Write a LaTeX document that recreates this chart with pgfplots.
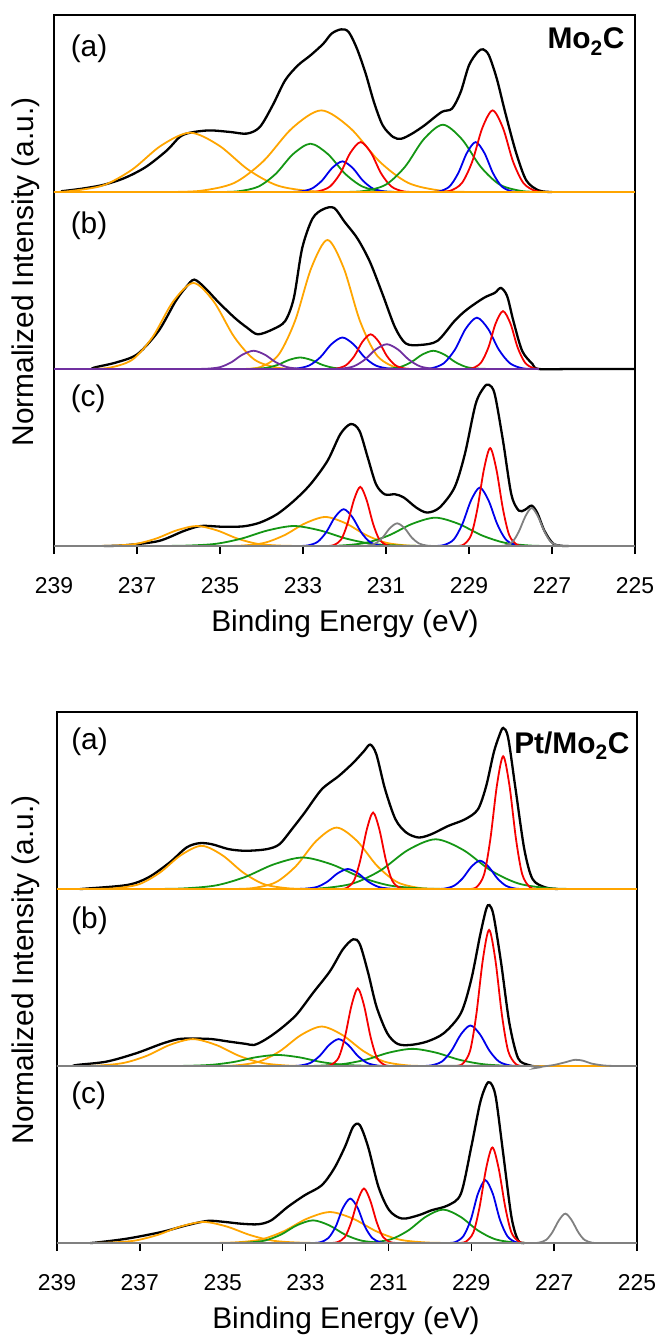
\documentclass[border=0pt]{standalone}
\usepackage{fontspec}
\setmainfont{Liberation Sans}
\usepackage{pgfplots}
\pgfplotsset{compat=1.18}
\definecolor{corange}{RGB}{255,165,0}
\definecolor{cgreen}{RGB}{20,150,20}
\definecolor{cblue}{RGB}{0,0,235}
\definecolor{cred}{RGB}{245,0,0}
\definecolor{cpurple}{RGB}{112,48,160}
\definecolor{cgray}{RGB}{128,128,128}
\newcommand\lab{\fontsize{30}{36}\selectfont}
\pgfplotsset{
  xps/.style={
    scale only axis, height=177bp,
    xmin=225, xmax=239, x dir=reverse, ymin=0, ymax=1,
    clip=false, anchor=center, hide axis,
  },
  frm/.style={
    scale only axis, height=531bp,
    xmin=225, xmax=239, x dir=reverse, ymin=0, ymax=1,
    anchor=center, ytick=\empty,
    axis line style={line width=1.6bp},
    xtick={225,227,...,239}, tick align=outside, xtick pos=left,
    major tick length=8bp, tick style={line width=1.4bp, black},
    xticklabel style={font=\fontsize{23}{27}\selectfont, yshift=-20bp},
    /pgf/number format/assume math mode=true,
  },
  cv/.style={smooth, line width=1.8bp},
  bk/.style={smooth, black, line width=2.3bp},
}
\begin{document}
\begin{tikzpicture}
\path[use as bounding box] (0,0) rectangle (660bp,-1342bp);
% ================= TOP FIGURE (Mo2C) =================
\begin{axis}[frm, width=581bp, at={(344.5bp,-280.5bp)}]
\end{axis}
% (a)
\begin{axis}[xps, width=581bp, at={(344.5bp,-103.5bp)}]
\addplot[bk] coordinates {(238.83,0.004)(238.32,0.019)(237.8,0.041)(237.3,0.079)(236.79,0.141)(236.28,0.235)(235.97,0.311)(235.72,0.335)(235.26,0.348)(234.75,0.339)(234.35,0.33)(234.04,0.367)(233.73,0.49)(233.43,0.631)(233.12,0.716)(232.82,0.772)(232.51,0.838)(232.31,0.895)(232.08,0.919)(231.9,0.904)(231.7,0.81)(231.49,0.669)(231.29,0.508)(231.08,0.377)(230.83,0.311)(230.63,0.301)(230.37,0.33)(230.07,0.377)(229.66,0.452)(229.41,0.471)(229.2,0.565)(229.0,0.716)(228.79,0.791)(228.66,0.806)(228.52,0.772)(228.33,0.64)(228.13,0.452)(227.87,0.226)(227.62,0.066)(227.32,0.009)(227.0,0)};
\addplot[cv, corange] coordinates {(239,0)(238.62,.005)(237.82,.037)(237.12,.126)(236.42,.262)(235.72,.335)(235.02,.262)(234.32,.126)(233.62,.037)(232.82,.005)(232.02,0)};
\addplot[cv, corange] coordinates {(236.26,0)(235.46,.007)(234.66,.051)(233.96,.173)(233.26,.361)(232.56,.461)(231.86,.361)(231.16,.173)(230.46,.051)(229.66,.007)(228.86,0)};
\addplot[cv, cgreen] coordinates {(235.04,0)(234.56,.004)(234.08,.030)(233.66,.102)(233.24,.214)(232.82,.273)(232.40,.214)(231.98,.102)(231.56,.030)(231.08,.004)(230.60,0)};
\addplot[cv, cblue] coordinates {(233.35,0)(233.07,.003)(232.79,.019)(232.54,.065)(232.30,.135)(232.05,.173)(231.80,.135)(231.56,.065)(231.31,.019)(231.03,.003)(230.75,0)};
\addplot[cv, cred] coordinates {(232.91,0)(232.63,.004)(232.35,.031)(232.10,.106)(231.86,.221)(231.61,.282)(231.36,.221)(231.12,.106)(230.87,.031)(230.59,.004)(230.31,0)};
\addplot[cv, cgreen] coordinates {(232.04,0)(231.52,.006)(231.00,.042)(230.54,.143)(230.09,.298)(229.63,.38)(229.17,.298)(228.72,.143)(228.26,.042)(227.74,.006)(227.22,0)};
\addplot[cv, cblue] coordinates {(229.95,0)(229.71,.004)(229.47,.031)(229.26,.106)(229.05,.221)(228.84,.282)(228.63,.221)(228.42,.106)(228.21,.031)(227.97,.004)(227.73,0)};
\addplot[cv, cred] coordinates {(229.73,0)(229.45,.007)(229.17,.051)(228.92,.173)(228.68,.361)(228.43,.461)(228.18,.361)(227.94,.173)(227.69,.051)(227.41,.007)(227.13,0)};
\addplot[corange, line width=1.8bp] coordinates {(239,0)(225,0)};
\node[anchor=west, font=\lab] at (axis cs:238.68,0.81) {(a)};
\node[anchor=east, font=\lab\bfseries] at (axis cs:225.17,0.85) {Mo\textsubscript{2}C};
\end{axis}
% (b)
\begin{axis}[xps, width=581bp, at={(344.5bp,-280.5bp)}]
\addplot[bk] coordinates {(238.1,0)(238.0,0.01)(237.5,0.037)(236.99,0.084)(236.48,0.215)(236.07,0.383)(235.82,0.462)(235.62,0.505)(235.36,0.458)(235.06,0.383)(234.65,0.29)(234.35,0.234)(234.09,0.196)(233.73,0.224)(233.43,0.271)(233.22,0.402)(233.02,0.682)(232.77,0.85)(232.51,0.903)(232.25,0.91)(232.0,0.832)(231.69,0.738)(231.39,0.607)(231.08,0.421)(230.78,0.234)(230.52,0.144)(230.17,0.136)(229.76,0.159)(229.35,0.271)(229.05,0.336)(228.64,0.402)(228.38,0.43)(228.23,0.458)(228.08,0.411)(227.93,0.271)(227.72,0.103)(227.47,0.028)(227.32,0)(226.5,0)(225,0)};
\addplot[cv, corange] coordinates {(238.23,0)(237.67,.007)(237.11,.053)(236.62,.182)(236.13,.381)(235.64,.486)(235.15,.381)(234.66,.182)(234.17,.053)(233.61,.007)(233.05,0)};
\addplot[cv, corange] coordinates {(234.48,0)(234.03,.011)(233.59,.080)(233.19,.273)(232.80,.571)(232.41,.729)(232.02,.571)(231.63,.273)(231.23,.080)(230.79,.011)(230.34,0)};
\addplot[cv, cgreen] coordinates {(234.48,0)(234.17,.001)(233.87,.007)(233.60,.024)(233.34,.051)(233.07,.065)(232.80,.051)(232.54,.024)(232.27,.007)(231.97,.001)(231.66,0)};
\addplot[cv, cgreen] coordinates {(231.27,0)(230.96,.002)(230.66,.011)(230.39,.039)(230.13,.081)(229.86,.103)(229.59,.081)(229.33,.039)(229.06,.011)(228.76,.002)(228.45,0)};
\addplot[cv, cblue] coordinates {(233.46,0)(233.15,.003)(232.85,.020)(232.58,.067)(232.32,.139)(232.05,.178)(231.78,.139)(231.52,.067)(231.25,.020)(230.95,.003)(230.64,0)};
\addplot[cv, cblue] coordinates {(230.22,0)(229.91,.004)(229.61,.032)(229.34,.109)(229.08,.227)(228.81,.29)(228.54,.227)(228.28,.109)(228.01,.032)(227.71,.004)(227.40,0)};
\addplot[cv, cred] coordinates {(232.41,0)(232.18,.003)(231.96,.022)(231.76,.074)(231.57,.153)(231.37,.196)(231.17,.153)(230.98,.074)(230.78,.022)(230.56,.003)(230.33,0)};
\addplot[cv, cred] coordinates {(229.11,0)(228.91,.005)(228.71,.036)(228.53,.123)(228.36,.256)(228.18,.327)(228.00,.256)(227.83,.123)(227.65,.036)(227.45,.005)(227.25,0)};
\addplot[cv, cpurple] coordinates {(235.60,0)(235.29,.002)(234.99,.011)(234.72,.039)(234.46,.081)(234.19,.103)(233.92,.081)(233.66,.039)(233.39,.011)(233.09,.002)(232.78,0)};
\addplot[cv, cpurple] coordinates {(232.39,0)(232.08,.002)(231.78,.015)(231.51,.053)(231.25,.110)(230.98,.14)(230.71,.110)(230.45,.053)(230.18,.015)(229.88,.002)(229.57,0)};
\addplot[black, line width=1.8bp] coordinates {(227.4,0)(225,0)};
\addplot[cpurple, line width=1.8bp] coordinates {(239,0)(227.32,0)};
\node[anchor=west, font=\lab] at (axis cs:238.68,0.81) {(b)};
\end{axis}
% (c)
\begin{axis}[xps, width=581bp, at={(344.5bp,-457.5bp)}]
\addplot[bk] coordinates {(237.8,0)(237.3,0.004)(236.48,0.028)(235.87,0.085)(235.46,0.113)(234.95,0.109)(234.44,0.111)(234.04,0.132)(233.63,0.179)(233.22,0.255)(232.82,0.349)(232.41,0.481)(232.1,0.632)(231.85,0.689)(231.64,0.651)(231.44,0.5)(231.24,0.349)(231.03,0.292)(230.78,0.292)(230.57,0.274)(230.27,0.217)(230.01,0.189)(229.71,0.217)(229.35,0.33)(229.1,0.519)(228.84,0.802)(228.64,0.896)(228.52,0.911)(228.38,0.858)(228.18,0.594)(227.98,0.292)(227.8,0.2)(227.65,0.205)(227.49,0.228)(227.35,0.185)(227.18,0.085)(226.95,0.01)(226.6,0)};
\addplot[cv, corange] coordinates {(238.15,0)(237.59,.002)(237.03,.012)(236.54,.042)(236.05,.088)(235.56,.113)(235.07,.088)(234.58,.042)(234.09,.012)(233.53,.002)(232.97,0)};
\addplot[cv, corange] coordinates {(235.05,0)(234.49,.002)(233.93,.018)(233.44,.062)(232.95,.128)(232.46,.164)(231.97,.128)(231.48,.062)(230.99,.018)(230.43,.002)(229.87,0)};
\addplot[cv, cgreen] coordinates {(236.55,0)(235.83,.002)(235.11,.012)(234.48,.042)(233.85,.088)(233.22,.113)(232.59,.088)(231.96,.042)(231.33,.012)(230.61,.002)(229.89,0)};
\addplot[cv, cgreen] coordinates {(232.77,0)(232.13,.002)(231.49,.018)(230.93,.060)(230.37,.125)(229.81,.16)(229.25,.125)(228.69,.060)(228.13,.018)(227.49,.002)(226.85,0)};
\addplot[cv, cblue] coordinates {(233.13,0)(232.89,.003)(232.65,.023)(232.44,.078)(232.23,.163)(232.02,.208)(231.81,.163)(231.60,.078)(231.39,.023)(231.15,.003)(230.91,0)};
\addplot[cv, cred] coordinates {(232.43,0)(232.26,.005)(232.08,.037)(231.93,.125)(231.77,.262)(231.62,.334)(231.47,.262)(231.31,.125)(231.16,.037)(230.98,.005)(230.81,0)};
\addplot[cv, cblue] coordinates {(229.85,0)(229.61,.005)(229.37,.036)(229.16,.124)(228.95,.258)(228.74,.33)(228.53,.258)(228.32,.124)(228.11,.036)(227.87,.005)(227.63,0)};
\addplot[cv, cred] coordinates {(229.30,0)(229.13,.008)(228.95,.061)(228.80,.207)(228.64,.433)(228.49,.553)(228.34,.433)(228.18,.207)(228.03,.061)(227.85,.008)(227.68,0)};
\addplot[cv, cgray] coordinates {(231.66,0)(231.46,.002)(231.26,.014)(231.08,.048)(230.91,.100)(230.73,.128)(230.55,.100)(230.38,.048)(230.20,.014)(230.00,.002)(229.80,0)};
\addplot[cv, cgray] coordinates {(228.30,0)(228.13,.003)(227.95,.024)(227.80,.081)(227.64,.168)(227.49,.215)(227.34,.168)(227.18,.081)(227.03,.024)(226.85,.003)(226.68,0)};
\addplot[cgray, line width=1.8bp] coordinates {(239,0)(225,0)};
\node[anchor=west, font=\lab] at (axis cs:238.68,0.83) {(c)};
\end{axis}
\node[rotate=90, font=\lab] at (26bp,-272bp) {Normalized Intensity (a.u.)};
\node[anchor=base, font=\lab] at (345bp,-631bp) {Binding Energy (eV)};
% ================= BOTTOM FIGURE (Pt/Mo2C) =================
\begin{axis}[frm, width=580bp, at={(347bp,-977.5bp)}]
\end{axis}
% (a)
\begin{axis}[xps, width=580bp, at={(347bp,-800.5bp)}]
\addplot[bk] coordinates {(238.45,0)(238.31,0.002)(237.3,0.023)(236.79,0.066)(236.28,0.15)(235.87,0.235)(235.56,0.259)(235.26,0.253)(234.85,0.225)(234.44,0.216)(233.94,0.225)(233.63,0.253)(233.33,0.338)(233.02,0.432)(232.61,0.563)(232.2,0.638)(231.85,0.713)(231.59,0.779)(231.44,0.816)(231.29,0.76)(231.08,0.563)(230.83,0.394)(230.57,0.319)(230.27,0.291)(229.96,0.31)(229.56,0.356)(229.15,0.394)(228.84,0.45)(228.64,0.582)(228.46,0.769)(228.33,0.863)(228.23,0.91)(228.11,0.854)(227.93,0.563)(227.72,0.225)(227.52,0.056)(227.21,0.009)(226.91,0)};
\addplot[cv, corange] coordinates {(238.17,0)(237.60,.004)(237.02,.027)(236.52,.092)(236.01,.191)(235.51,.244)(235.01,.191)(234.50,.092)(234.00,.027)(233.42,.004)(232.85,0)};
\addplot[cv, corange] coordinates {(234.84,0)(234.28,.005)(233.72,.038)(233.23,.130)(232.74,.272)(232.25,.347)(231.76,.272)(231.27,.130)(230.78,.038)(230.22,.005)(229.66,0)};
\addplot[cv, cgreen] coordinates {(236.77,0)(235.97,.003)(235.17,.020)(234.47,.067)(233.77,.139)(233.07,.178)(232.37,.139)(231.67,.067)(230.97,.020)(230.17,.003)(229.37,0)};
\addplot[cv, cgreen] coordinates {(233.38,0)(232.62,.004)(231.86,.031)(231.19,.105)(230.53,.220)(229.86,.281)(229.19,.220)(228.53,.105)(227.86,.031)(227.10,.004)(226.34,0)};
\addplot[cv, cblue] coordinates {(233.28,0)(233.00,.002)(232.72,.012)(232.47,.042)(232.23,.088)(231.98,.113)(231.73,.088)(231.49,.042)(231.24,.012)(230.96,.002)(230.68,0)};
\addplot[cv, cred] coordinates {(232.18,0)(232.01,.006)(231.83,.048)(231.68,.162)(231.52,.338)(231.37,.432)(231.22,.338)(231.06,.162)(230.91,.048)(230.73,.006)(230.56,0)};
\addplot[cv, cblue] coordinates {(229.90,0)(229.66,.002)(229.42,.018)(229.21,.060)(229.00,.125)(228.79,.16)(228.58,.125)(228.37,.060)(228.16,.018)(227.92,.002)(227.68,0)};
\addplot[cv, cred] coordinates {(229.04,0)(228.87,.011)(228.69,.083)(228.54,.281)(228.38,.587)(228.23,.75)(228.08,.587)(227.92,.281)(227.77,.083)(227.59,.011)(227.42,0)};
\addplot[corange, line width=1.8bp] coordinates {(239,0)(225,0)};
\node[anchor=west, font=\lab] at (axis cs:238.74,0.83) {(a)};
\node[anchor=east, font=\lab\bfseries] at (axis cs:225.1,0.81) {Pt/Mo\textsubscript{2}C};
\end{axis}
% (b)
\begin{axis}[xps, width=580bp, at={(347bp,-977.5bp)}]
\addplot[bk] coordinates {(238.6,0)(238.52,0.006)(237.8,0.025)(237.09,0.072)(236.48,0.125)(236.07,0.152)(235.67,0.155)(235.26,0.152)(234.85,0.138)(234.44,0.125)(234.24,0.119)(233.98,0.148)(233.63,0.205)(233.22,0.29)(232.82,0.413)(232.41,0.536)(232.1,0.659)(231.85,0.716)(231.69,0.688)(231.49,0.527)(231.29,0.337)(231.03,0.186)(230.78,0.125)(230.47,0.119)(230.07,0.138)(229.66,0.186)(229.25,0.299)(229.0,0.489)(228.79,0.735)(228.64,0.886)(228.56,0.909)(228.46,0.848)(228.28,0.583)(228.08,0.242)(227.87,0.044)(227.62,0.006)(227.5,0)};
\addplot[cv, corange] coordinates {(238.68,0)(238.04,.002)(237.40,.017)(236.84,.057)(236.28,.119)(235.72,.152)(235.16,.119)(234.60,.057)(234.04,.017)(233.40,.002)(232.76,0)};
\addplot[cv, corange] coordinates {(235.27,0)(234.70,.003)(234.12,.025)(233.62,.084)(233.11,.175)(232.61,.223)(232.11,.175)(231.60,.084)(231.10,.025)(230.52,.003)(229.95,0)};
\addplot[cv, cgreen] coordinates {(236.46,0)(235.86,.001)(235.26,.007)(234.73,.023)(234.21,.049)(233.68,.0625)(233.15,.049)(232.63,.023)(232.10,.007)(231.50,.001)(230.90,0)};
\addplot[cv, cgreen] coordinates {(233.38,0)(232.74,.001)(232.10,.011)(231.54,.036)(230.98,.076)(230.42,.097)(229.86,.076)(229.30,.036)(228.74,.011)(228.10,.001)(227.46,0)};
\addplot[cv, cblue] coordinates {(233.42,0)(233.16,.002)(232.89,.017)(232.66,.057)(232.43,.119)(232.20,.152)(231.97,.119)(231.74,.057)(231.51,.017)(231.24,.002)(230.98,0)};
\addplot[cv, cred] coordinates {(232.55,0)(232.38,.007)(232.20,.048)(232.05,.164)(231.89,.343)(231.74,.438)(231.59,.343)(231.43,.164)(231.28,.048)(231.10,.007)(230.93,0)};
\addplot[cv, cblue] coordinates {(230.24,0)(229.98,.003)(229.71,.025)(229.48,.086)(229.25,.179)(229.02,.229)(228.79,.179)(228.56,.086)(228.33,.025)(228.06,.003)(227.80,0)};
\addplot[cv, cred] coordinates {(229.38,0)(229.21,.012)(229.03,.085)(228.88,.288)(228.72,.602)(228.57,.769)(228.42,.602)(228.26,.288)(228.11,.085)(227.93,.012)(227.76,0)};
\addplot[corange, line width=1.8bp] coordinates {(239,0)(225,0)};
\addplot[cv, cgray] coordinates {(239,0)(233,0)(227.7,0)(227.47,-0.012)(227.3,-0.004)(227.0,0.006)(226.75,0.02)(226.5,0.035)(226.3,0.03)(226.1,0.014)(225.8,0.003)(225.5,0)(225,0)};
\node[anchor=west, font=\lab] at (axis cs:238.74,0.82) {(b)};
\end{axis}
% (c)
\begin{axis}[xps, width=580bp, at={(347bp,-1154.5bp)}]
\addplot[bk] coordinates {(238.2,0)(238.0,0.004)(237.3,0.025)(236.48,0.062)(235.87,0.1)(235.36,0.125)(234.95,0.119)(234.55,0.109)(234.14,0.106)(233.83,0.128)(233.43,0.204)(233.02,0.27)(232.61,0.326)(232.31,0.421)(232.05,0.543)(231.85,0.657)(231.69,0.666)(231.49,0.543)(231.24,0.317)(230.98,0.185)(230.67,0.138)(230.27,0.157)(229.96,0.185)(229.56,0.213)(229.25,0.279)(229.0,0.543)(228.79,0.789)(228.64,0.892)(228.54,0.906)(228.41,0.826)(228.23,0.506)(228.03,0.147)(227.87,0.015)(227.72,0)};
\addplot[cv, corange] coordinates {(238.42,0)(237.78,.002)(237.14,.013)(236.58,.045)(236.02,.093)(235.46,.119)(234.90,.093)(234.34,.045)(233.78,.013)(233.14,.002)(232.50,0)};
\addplot[cv, corange] coordinates {(235.37,0)(234.73,.003)(234.09,.019)(233.53,.066)(232.97,.137)(232.41,.175)(231.85,.137)(231.29,.066)(230.73,.019)(230.09,.003)(229.45,0)};
\addplot[cv, cgreen] coordinates {(234.86,0)(234.42,.002)(233.98,.014)(233.59,.048)(233.21,.100)(232.82,.128)(232.43,.100)(232.05,.048)(231.66,.014)(231.22,.002)(230.78,0)};
\addplot[cv, cgreen] coordinates {(231.90,0)(231.42,.003)(230.94,.021)(230.52,.071)(230.10,.148)(229.68,.189)(229.26,.148)(228.84,.071)(228.42,.021)(227.94,.003)(227.46,0)};
\addplot[cv, cblue] coordinates {(232.85,0)(232.65,.004)(232.45,.028)(232.27,.094)(232.10,.197)(231.92,.251)(231.74,.197)(231.57,.094)(231.39,.028)(231.19,.004)(230.99,0)};
\addplot[cv, cred] coordinates {(232.40,0)(232.23,.005)(232.05,.034)(231.90,.116)(231.74,.241)(231.59,.308)(231.44,.241)(231.28,.116)(231.13,.034)(230.95,.005)(230.78,0)};
\addplot[cv, cblue] coordinates {(229.59,0)(229.39,.005)(229.19,.039)(229.01,.133)(228.84,.278)(228.66,.355)(228.48,.278)(228.31,.133)(228.13,.039)(227.93,.005)(227.73,0)};
\addplot[cv, cred] coordinates {(229.30,0)(229.13,.008)(228.95,.059)(228.80,.203)(228.64,.423)(228.49,.54)(228.34,.423)(228.18,.203)(228.03,.059)(227.85,.008)(227.68,0)};
\addplot[cv, cgray] coordinates {(227.54,0)(227.37,.002)(227.19,.018)(227.04,.062)(226.88,.130)(226.73,.166)(226.58,.130)(226.42,.062)(226.27,.018)(226.09,.002)(225.92,0)};
\addplot[cgray, line width=1.8bp] coordinates {(239,0)(225,0)};
\node[anchor=west, font=\lab] at (axis cs:238.74,0.83) {(c)};
\end{axis}
\node[rotate=90, font=\lab] at (26bp,-970bp) {Normalized Intensity (a.u.)};
\node[anchor=base, font=\lab] at (346bp,-1328bp) {Binding Energy (eV)};
\end{tikzpicture}
\end{document}
